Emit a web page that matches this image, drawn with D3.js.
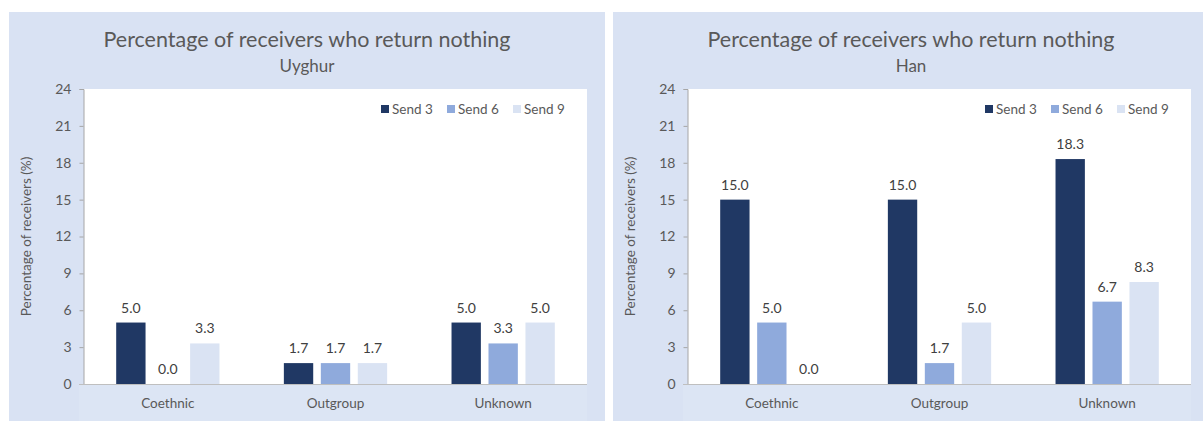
<!DOCTYPE html>
<html>
<head>
<meta charset="utf-8">
<script src="https://cdn.jsdelivr.net/npm/d3@7"></script>
<style>
  body { margin: 0; background: #fff; }
  svg text { font-family: Lato, "Open Sans", sans-serif; }
</style>
</head>
<body>
<div id="content"></div>
<script>
var categories = ["Coethnic", "Outgroup", "Unknown"];
var seriesNames = ["Send 3", "Send 6", "Send 9"];
var uyghurSend3 = [5.0, 1.7, 5.0];
var uyghurSend6 = [0.0, 1.7, 3.3];
var uyghurSend9 = [3.3, 1.7, 5.0];
var hanSend3 = [15.0, 15.0, 18.3];
var hanSend6 = [5.0, 1.7, 6.7];
var hanSend9 = [0.0, 5.0, 8.3];
var yTicks = [0, 3, 6, 9, 12, 15, 18, 21, 24];
var chartTitle = "Percentage of receivers who return nothing";
var yTitle = "Percentage of receivers (%)";

(function(d3) {
    var width = 1203, height = 421;
    var colors = ["#203864", "#8faadc", "#dae3f3"];

    var svg = d3.select("#content").append("svg")
        .attr("viewBox", [0, 0, width, height])
        .attr("width", width).attr("height", height);

    function drawPanel(offsetX, subtitle, values) {
        var g = svg.append("g").attr("transform", "translate(" + offsetX + ",0)");
        var plot = {left: 84, right: 587, top: 89, bottom: 384};

        g.append("rect").attr("x", 9).attr("y", 12)
            .attr("width", 596).attr("height", height - 12)
            .attr("fill", "#d9e2f3");
        g.append("rect").attr("x", 79).attr("y", plot.bottom)
            .attr("width", plot.right - 79).attr("height", height - plot.bottom)
            .attr("fill", "#dce5f4");
        g.append("rect").attr("x", plot.left).attr("y", plot.top)
            .attr("width", plot.right - plot.left).attr("height", plot.bottom - plot.top)
            .attr("fill", "#fff");

        g.append("text").attr("x", 307).attr("y", 47)
            .attr("text-anchor", "middle").attr("font-size", 21.5)
            .attr("fill", "#595959").text(chartTitle);
        g.append("text").attr("x", 307).attr("y", 72)
            .attr("text-anchor", "middle").attr("font-size", 17)
            .attr("fill", "#595959").text(subtitle);

        var y = d3.scaleLinear().domain([0, 24]).range([plot.bottom, plot.top]);
        var x0 = d3.scaleBand().domain(categories).range([plot.left, plot.right]);
        var x1 = d3.scaleBand().domain(seriesNames)
            .range([x0.bandwidth() * 0.192, x0.bandwidth() * 0.808])
            .paddingInner(0.206);

        var yAxis = g.append("g")
            .attr("transform", "translate(" + (plot.left - 0.5) + ",0)")
            .call(d3.axisLeft(y).tickValues(yTicks).tickSize(4).tickPadding(8));
        yAxis.select(".domain").attr("stroke", "#a6a6a6");
        yAxis.selectAll(".tick line").attr("stroke", "#a6a6a6");
        yAxis.selectAll(".tick text").attr("font-size", 14).attr("fill", "#595959")
            .style("font-family", "Lato, sans-serif");

        g.append("line").attr("x1", 79).attr("x2", plot.right)
            .attr("y1", plot.bottom + 0.5).attr("y2", plot.bottom + 0.5)
            .attr("stroke", "#bfbfbf");

        g.append("text")
            .attr("transform", "translate(31," + ((plot.top + plot.bottom) / 2) + ") rotate(-90)")
            .attr("text-anchor", "middle").attr("font-size", 13.5)
            .attr("fill", "#595959").text(yTitle);

        g.selectAll(".cat").data(categories).enter().append("text")
            .attr("x", function(d) { return x0(d) + x0.bandwidth() / 2; })
            .attr("y", 408).attr("text-anchor", "middle").attr("font-size", 13.5)
            .attr("fill", "#595959").text(function(d) { return d; });

        seriesNames.forEach(function(s, i) {
            var bars = g.append("g");
            bars.selectAll("rect").data(values[i]).enter().append("rect")
                .attr("x", function(d, j) { return x0(categories[j]) + x1(s); })
                .attr("y", function(d) { return y(d); })
                .attr("width", x1.bandwidth())
                .attr("height", function(d) { return y(0) - y(d); })
                .attr("fill", colors[i]);
            bars.selectAll("text").data(values[i]).enter().append("text")
                .attr("x", function(d, j) { return x0(categories[j]) + x1(s) + x1.bandwidth() / 2; })
                .attr("y", function(d) { return y(d) - 10; })
                .attr("text-anchor", "middle").attr("font-size", 14)
                .attr("fill", "#404040").text(function(d) { return d.toFixed(1); });
        });

        var legendX = [381, 447, 513];
        seriesNames.forEach(function(s, i) {
            g.append("rect").attr("x", legendX[i]).attr("y", 105)
                .attr("width", 8).attr("height", 8).attr("fill", colors[i]);
            g.append("text").attr("x", legendX[i] + 11).attr("y", 114)
                .attr("font-size", 13.5).attr("fill", "#595959").text(s);
        });
    }

    drawPanel(0, "Uyghur", [uyghurSend3, uyghurSend6, uyghurSend9]);
    drawPanel(604, "Han", [hanSend3, hanSend6, hanSend9]);
})(d3);
</script>
</body>
</html>
